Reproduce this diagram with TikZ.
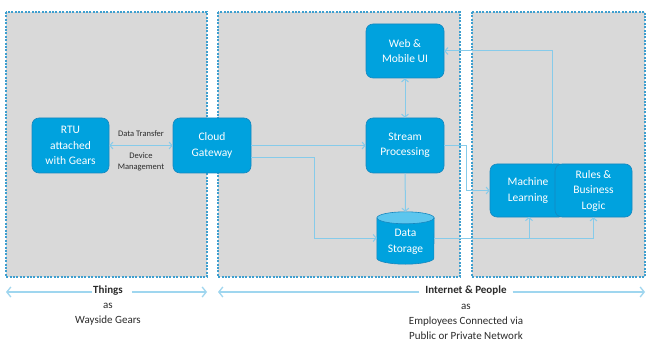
\documentclass[tikz,border=0pt]{standalone}
\usepackage{fontspec}
\setmainfont{Carlito}
\usetikzlibrary{arrows.meta}

\definecolor{panelfill}{HTML}{D9D9D9}
\definecolor{paneledge}{HTML}{3E9FCF}
\definecolor{boxfill}{HTML}{00A2DE}
\definecolor{boxedge}{HTML}{1687BF}
\definecolor{linkcol}{HTML}{86CBEA}
\definecolor{axiscol}{HTML}{9FD6EF}
\definecolor{captioncol}{HTML}{2B2B2B}
\definecolor{cyltop}{HTML}{5CC6EE}

\tikzset{
  panel/.style={fill=panelfill, draw=paneledge, line width=1.1pt, dash pattern=on 2pt off 1.4pt},
  block/.style={draw=boxedge, line width=0.6pt, fill=boxfill, rounded corners=7pt,
    text=white, align=center, font=\fontsize{11.5}{15.5}\selectfont, inner sep=0pt},
  link/.style={draw=linkcol, line width=1pt},
  axis/.style={draw=axiscol, line width=2pt},
  smalltext/.style={text=captioncol, align=center, font=\fontsize{8.5}{11}\selectfont, inner sep=1pt},
  captionbold/.style={text=captioncol, align=center, font=\bfseries\fontsize{11}{15}\selectfont, inner sep=1pt},
  caption/.style={text=captioncol, align=center, font=\fontsize{11}{15}\selectfont, inner sep=1pt},
}

\begin{document}
\begin{tikzpicture}[x=1pt, y=-1pt,
  >={Straight Barb[length=3pt,width=7pt]}]
\useasboundingbox (0,0) rectangle (647,358);
\fill[white] (0,0) rectangle (647,358);

% zones
\path[panel] (6,12) rectangle (207,277);
\path[panel] (218,12) rectangle (460,277);
\path[panel] (472,12) rectangle (645,277);

% blocks
\node[block, minimum width=77pt, minimum height=55pt] (rtu) at (70.5,145.5) {RTU\\attached\\with Gears};
\node[block, minimum width=78pt, minimum height=55pt] (cg) at (212,145.5) {Cloud\\Gateway};
\node[block, minimum width=78pt, minimum height=54pt] (web) at (405,51) {Web \&\\Mobile UI};
\node[block, minimum width=78pt, minimum height=55pt] (sp) at (405,145.5) {Stream\\Processing};
\node[block, minimum width=76pt, minimum height=53pt] (ml) at (528,190.5) {Machine\\Learning};
\node[block, minimum width=77pt, minimum height=53pt] (rules) at (593.5,190.5) {Rules \&\\Business\\Logic};

% data store cylinder
\node[minimum width=57pt, minimum height=52pt, inner sep=0pt] (ds) at (405.5,238) {};
\filldraw[fill=boxfill, draw=boxedge, line width=0.6pt]
  ([yshift=-6pt]ds.north west) -- ([yshift=6pt]ds.south west)
  arc[start angle=180, end angle=360, x radius=28.5pt, y radius=6pt]
  -- ([yshift=-6pt]ds.north east) -- cycle;
\filldraw[fill=cyltop, draw=boxedge, line width=0.6pt]
  ([yshift=-6pt]ds.north) ellipse [x radius=28.5pt, y radius=6pt];
\node[text=white, align=center, font=\fontsize{11.5}{15.5}\selectfont, inner sep=0pt]
  (dslabel) at ([yshift=-4pt]ds.center) {Data\\Storage};

% connectors
\draw[link, <->] (rtu) -- (cg);
\node[smalltext] (dt) at (141,134) {Data Transfer};
\node[smalltext] (dm) at (141,162) {Device\\Management};

\draw[link, ->] (cg.east) -- (sp.west);
\draw[link, ->] ([yshift=-12pt]cg.east) -- ++(63,0) |- (ds.west);
\draw[link, <->] (sp) -- (web);
\draw[link, ->] (sp) -- (ds);
\draw[link, ->] (sp.east) -- ++(22,0) |- (ml.west);
\draw[link, ->] ([xshift=-2pt]rules.north west) |- (web.east);

\coordinate (mlin) at (529,217);
\draw[link] (ds.east) -- (ds.east -| rules.south);
\draw[link, ->] (ds.east -| mlin) -- (mlin);
\draw[link, ->] (ds.east -| rules.south) -- (rules.south);

% bottom scale: things
\coordinate (tl) at (6,292);
\coordinate (tr) at (207,292);
\node[captionbold] (things) at (108,291) {Things};
\node[caption] (thingsas) at (108,314) {as\\Wayside Gears};
\draw[axis, -{Straight Barb[length=4pt,width=10pt,line width=1.3pt]}] (things.west |- tl) -- (tl);
\draw[axis, -{Straight Barb[length=4pt,width=10pt,line width=1.3pt]}] ([xshift=8pt]things.east |- tl) -- (tr);

% bottom scale: internet and people
\coordinate (il) at (218,292);
\coordinate (ir) at (645,292);
\node[captionbold] (inet) at (466,291) {Internet \& People};
\node[caption] (inetas) at (466,322) {as\\Employees Connected via\\Public or Private Network};
\draw[axis, -{Straight Barb[length=4pt,width=10pt,line width=1.3pt]}] ([xshift=-5pt]inet.west |- il) -- (il);
\draw[axis, -{Straight Barb[length=4pt,width=10pt,line width=1.3pt]}] ([xshift=5pt]inet.east |- il) -- (ir);
\end{tikzpicture}
\end{document}
